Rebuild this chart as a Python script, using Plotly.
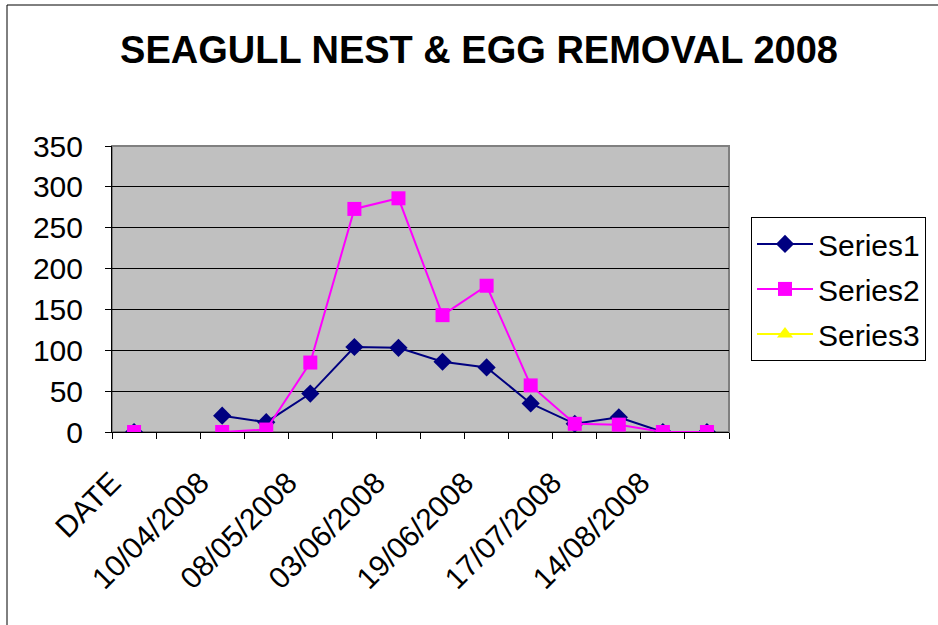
import plotly.graph_objects as go

categories = ["DATE", "", "10/04/2008", "", "08/05/2008", "", "03/06/2008", "",
              "19/06/2008", "", "17/07/2008", "", "14/08/2008", ""]
series1 = [0, None, 20, 12, 47, 104, 103, 86, 79, 35, 10, 18, 0, 0]
series2 = [0, None, 0, 3, 85, 273, 286, 143, 179, 57, 10, 9, 0, 0]
series3 = [None]
y_ticks = [0, 50, 100, 150, 200, 250, 300, 350]

FONT = "Arial, Liberation Sans, sans-serif"
pos = list(range(len(categories)))

fig = go.Figure()
fig.add_trace(go.Scatter(x=pos, y=series1, name="Series1", mode="lines+markers",
                         legendgroup="s1",
                         line=dict(color="#000080", width=2),
                         marker=dict(symbol="diamond", size=14, color="#000080")))
fig.add_trace(go.Scatter(x=pos, y=series2, name="Series2", mode="lines+markers",
                         legendgroup="s2",
                         line=dict(color="#FF00FF", width=2),
                         marker=dict(symbol="square", size=14, color="#FF00FF")))
fig.add_trace(go.Scatter(x=series3, y=series3, name="Series3", mode="lines+markers",
                         legendgroup="s3",
                         line=dict(color="#FFFF00", width=2),
                         marker=dict(symbol="triangle-up", size=14, color="#FFFF00")))

fig.update_layout(
    width=938, height=625,
    margin=dict(l=112, r=209, t=146, b=193, autoexpand=False),
    paper_bgcolor="white", plot_bgcolor="#C0C0C0",
    font=dict(family=FONT, size=30, color="black"),
    title=dict(text="<b>SEAGULL NEST & EGG REMOVAL 2008</b>", x=(115 + 843) / 2 / 938,
               xanchor="center", xref="container", y=1 - 50 / 625, yanchor="middle",
               font=dict(family=FONT, size=38, color="black")),
    showlegend=True,
    legend=dict(x=(751 - 112) / 617, xanchor="left", y=0.752, yanchor="top",
                bordercolor="black", borderwidth=1, bgcolor="white",
                itemwidth=56,
                font=dict(family=FONT, size=30), tracegroupgap=3),
    xaxis=dict(range=[-0.5, len(categories) - 0.5], tickmode="array",
               tickvals=[p for p, c in zip(pos, categories) if c],
               ticktext=[c for c in categories if c],
               tickangle=-45, ticks="", showgrid=False, zeroline=False,
               showline=True, linecolor="black", linewidth=1,
               ticklabelstandoff=20, ticklabelshift=-22,
               minor=dict(tickmode="array",
                          tickvals=[p - 0.5 for p in pos] + [len(categories) - 0.5],
                          ticks="outside", ticklen=6, tickcolor="black", showgrid=False),
               tickfont=dict(family=FONT, size=30)),
    yaxis=dict(range=[0, 350], tickmode="array", tickvals=y_ticks,
               ticks="outside", ticklen=6, tickcolor="black",
               showgrid=True, gridcolor="black", gridwidth=1, zeroline=False,
               showline=True, linecolor="black", linewidth=1,
               ticklabelstandoff=16,
               tickfont=dict(family=FONT, size=30)),
    shapes=[
        dict(type="rect", xref="paper", yref="paper", x0=0, x1=1, y0=0, y1=1,
             line=dict(color="#808080", width=2), layer="below"),
        dict(type="rect", xref="paper", yref="paper",
             x0=(7 - 112) / 617, x1=(945 - 112) / 617,
             y0=(432 - 640) / 286, y1=1 + (146 - 5) / 286,
             line=dict(color="black", width=1)),
    ],
)

fig.write_html("out.html", config={"displayModeBar": False},
               post_script="document.body.style.margin='0';")
